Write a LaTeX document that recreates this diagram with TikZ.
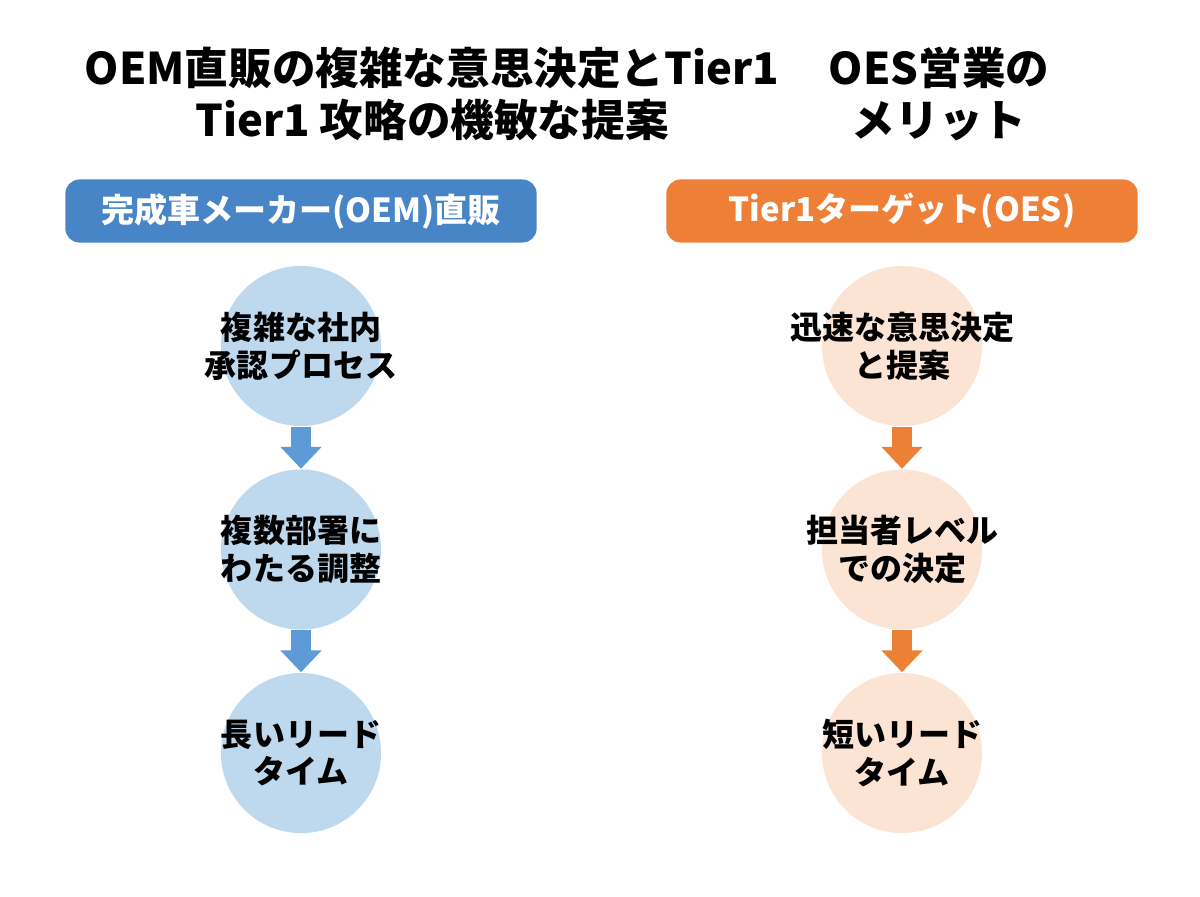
\documentclass[tikz,border=0pt]{standalone}
\usepackage{fontspec}
\setmainfont{Noto Sans CJK JP}
\usepackage{tikz}
\usetikzlibrary{arrows.meta, positioning}
\definecolor{oemblue}{RGB}{72,133,199}
\definecolor{oemlight}{RGB}{190,216,238}
\definecolor{oemarrow}{RGB}{92,155,213}
\definecolor{oesorange}{RGB}{237,127,55}
\definecolor{oeslight}{RGB}{252,228,212}
\definecolor{oesarrow}{RGB}{236,128,52}
\tikzset{
  titletext/.style={font=\fontsize{12.4}{14.8}\selectfont\bfseries, align=center, text=black},
  header/.style={rectangle, rounded corners=4pt, minimum width=4.71cm,
    minimum height=0.63cm, text=white, font=\fontsize{9.4}{11}\selectfont\bfseries},
  oemheader/.style={header, fill=oemblue},
  oesheader/.style={header, fill=oesorange},
  steptext/.style={align=center, inner sep=0pt, font=\fontsize{9.1}{10.8}\selectfont\bfseries},
  stepcircle/.style={circle, minimum size=1.6cm, inner sep=0pt,
    label={[steptext]center:#1}},
  oemcircle/.style={stepcircle={#1}, fill=oemlight},
  oescircle/.style={stepcircle={#1}, fill=oeslight},
  blockarrow/.style={-{Triangle[width=0.4cm, length=0.22cm]}, line width=0.2cm},
}
\begin{document}
\begin{tikzpicture}[x=0.01cm, y=-0.01cm, node distance=0.42cm]
  \useasboundingbox[fill=white] (0,0) rectangle (1200,896);

  % titles
  \node[titletext] (lefttitle) at (432,94) {OEM直販の複雑な意思決定とTier1\\Tier1 攻略の機敏な提案};
  \node[titletext] (righttitle) at (939,94) {OES営業の\\メリット};

  % column headers
  \node[oemheader] (oemhead) at (301,211) {完成車メーカー(OEM)直販};
  \node[oesheader] (oeshead) at (902,211) {Tier1ターゲット(OES)};

  % left column: OEM
  \node[oemcircle={複雑な社内\\承認プロセス}, below=0.22cm of oemhead] (oemA) {};
  \node[oemcircle={複数部署に\\わたる調整}, below=of oemA] (oemB) {};
  \node[oemcircle={長いリード\\タイム}, below=of oemB] (oemC) {};

  % right column: OES
  \node[oescircle={迅速な意思決定\\と提案}, below=0.22cm of oeshead] (oesA) {};
  \node[oescircle={担当者レベル\\での決定}, below=of oesA] (oesB) {};
  \node[oescircle={短いリード\\タイム}, below=of oesB] (oesC) {};

  \draw[blockarrow, oemarrow] (oemA.south) -- (oemB.north);
  \draw[blockarrow, oemarrow] (oemB.south) -- (oemC.north);
  \draw[blockarrow, oesarrow] (oesA.south) -- (oesB.north);
  \draw[blockarrow, oesarrow] (oesB.south) -- (oesC.north);
\end{tikzpicture}
\end{document}
